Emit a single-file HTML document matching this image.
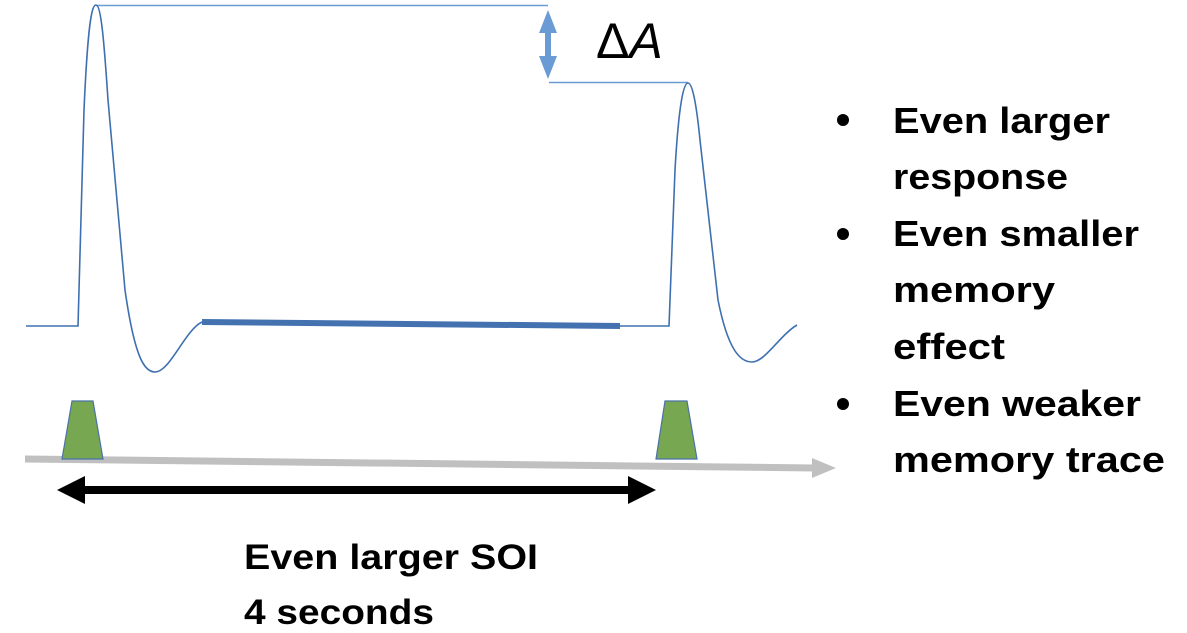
<!DOCTYPE html>
<html><head><meta charset="utf-8"><style>
html,body{margin:0;padding:0;background:#fff;width:1187px;height:633px;overflow:hidden}
text{font-family:"Liberation Sans",sans-serif}
</style></head><body>
<svg id="fig" width="1187" height="633" viewBox="0 0 1187 633" xmlns="http://www.w3.org/2000/svg">
<path d="M96 5.5 H548" stroke="#6a9bd4" stroke-width="1.5" fill="none"/>
<path d="M549 82.5 H688" stroke="#6a9bd4" stroke-width="1.5" fill="none"/>
<g fill="#6a9bd4">
<rect x="545" y="22" width="6" height="40"/>
<polygon points="548,10 539,33 557,33"/>
<polygon points="548,79 539,56 557,56"/>
</g>
<text x="596" y="58" font-size="50">Δ<tspan font-style="italic">A</tspan></text>
<path d="M26 326 H78 L84 110 C88 20 92 5 96 5 C101 5 104 40 108 100 L125 290 C135 360 145 372 155 372 C170 372 185 330 202 322 M620 326 H669 L675 170 C679 100 684 83 688 83 C692 83 696 100 700 140 L718 300 C728 350 740 362 752 362 C765 362 780 335 797 325" stroke="#3e70b0" stroke-width="1.6" fill="none"/>
<path d="M202 322 L620 326" stroke="#4472b0" stroke-width="6" fill="none"/>
<path d="M25 459 L815 468" stroke="#c0c0c0" stroke-width="7" fill="none"/>
<polygon points="812,458 836,468 812,478" fill="#c0c0c0"/>
<polygon points="72,401 93,401 103,459 62,459" fill="#78a751" stroke="#4a72a8" stroke-width="1.2"/>
<polygon points="665,401 687,401 697,459 656,459" fill="#78a751" stroke="#4a72a8" stroke-width="1.2"/>
<g>
<rect x="80" y="486" width="552" height="8" fill="#000"/>
<polygon points="57,490 85,476 85,504" fill="#000"/>
<polygon points="656,490 628,476 628,504" fill="#000"/>
</g>
<text x="244" y="569" font-size="35" font-weight="bold" textLength="294" lengthAdjust="spacingAndGlyphs">Even larger SOI</text>
<text x="244" y="624" font-size="35" font-weight="bold" textLength="190" lengthAdjust="spacingAndGlyphs">4 seconds</text>
<g font-size="36" font-weight="bold" fill="#000">
<circle cx="843" cy="120" r="6"/><circle cx="843" cy="234" r="6"/><circle cx="843" cy="404" r="6"/>
<text x="893" y="133" textLength="217" lengthAdjust="spacingAndGlyphs">Even larger</text>
<text x="893" y="189" textLength="175" lengthAdjust="spacingAndGlyphs">response</text>
<text x="893" y="246" textLength="246" lengthAdjust="spacingAndGlyphs">Even smaller</text>
<text x="893" y="302" textLength="162" lengthAdjust="spacingAndGlyphs">memory</text>
<text x="893" y="359" textLength="112" lengthAdjust="spacingAndGlyphs">effect</text>
<text x="893" y="416" textLength="248" lengthAdjust="spacingAndGlyphs">Even weaker</text>
<text x="893" y="472" textLength="272" lengthAdjust="spacingAndGlyphs">memory trace</text>
</g>
</svg>
</body></html>
